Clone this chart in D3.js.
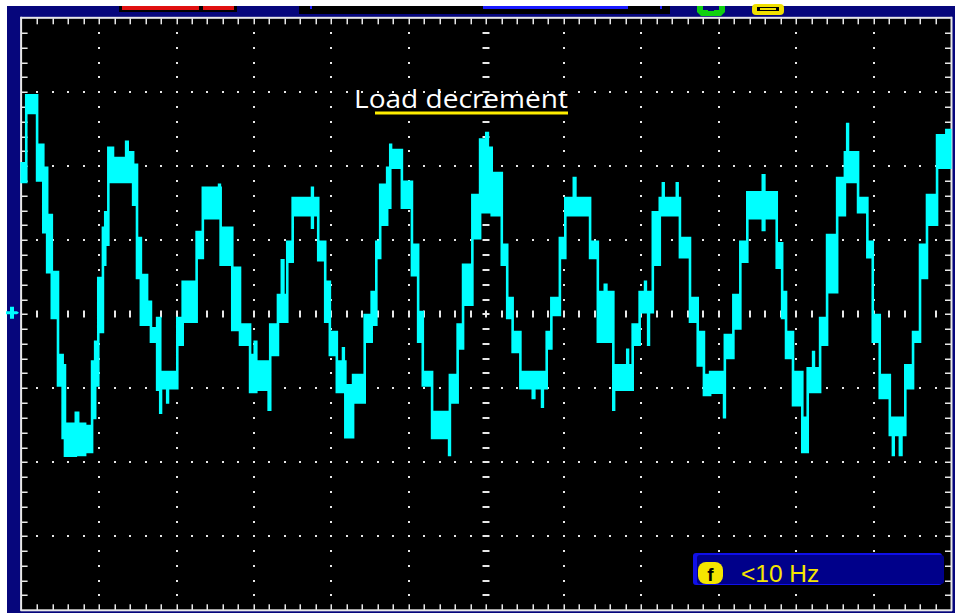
<!DOCTYPE html>
<html>
<head>
<meta charset="utf-8">
<script src="https://cdn.jsdelivr.net/npm/d3@7"></script>
<style>
html,body{margin:0;padding:0;background:#ffffff;}
svg{display:block;}
</style>
</head>
<body>
<svg id="chart" width="958" height="613"></svg>
<script>
// ---- data (time in divisions 0..12, amplitude in divisions -4..4) ----
const timeDivs = 12;
const voltDivs = 8;
const traceT  = [0.00,0.06,0.20,0.28,0.33,0.39,0.47,0.53,0.56,0.70,0.73,0.82,0.91,0.95,0.99,1.05,1.08,1.12,1.18,1.35,1.37,1.44,1.49,1.54,1.62,1.67,1.75,1.79,1.80,1.88,1.89,2.01,2.08,2.26,2.34,2.55,2.56,2.57,2.72,2.82,2.95,3.01,3.03,3.19,3.21,3.31,3.36,3.38,3.43,3.50,3.75,3.76,3.83,3.92,3.98,4.07,4.15,4.16,4.18,4.28,4.43,4.52,4.58,4.63,4.72,4.76,4.77,4.91,5.04,5.12,5.18,5.30,5.52,5.53,5.63,5.70,5.82,5.92,6.00,6.02,6.07,6.20,6.27,6.34,6.44,6.60,6.62,6.72,6.73,6.78,6.84,6.95,7.02,7.13,7.15,7.34,7.44,7.53,7.55,7.64,7.65,7.82,7.83,7.89,7.98,8.05,8.06,8.09,8.10,8.15,8.24,8.28,8.29,8.46,8.47,8.50,8.63,8.73,8.81,8.89,9.07,9.08,9.19,9.28,9.37,9.57,9.59,9.75,9.82,9.87,9.96,10.08,10.15,10.22,10.23,10.31,10.40,10.53,10.63,10.66,10.67,10.80,10.92,10.99,11.08,11.21,11.25,11.26,11.34,11.36,11.41,11.51,11.60,11.69,11.82,11.94,11.99];
const traceHi = [2.04,2.96,2.29,1.98,1.34,0.57,-0.55,-0.69,-1.48,-1.33,-1.48,-1.51,-0.64,-0.37,0.49,1.17,1.38,2.25,2.11,2.33,2.19,2.02,1.03,0.53,0.17,-0.19,-0.05,-0.78,-0.78,-0.78,-0.78,-0.05,0.44,1.11,1.71,1.75,1.71,1.17,0.63,-0.14,-0.55,-0.37,-0.64,-0.64,-0.14,0.26,0.73,0.26,0.98,1.57,1.71,1.57,0.98,0.44,-0.24,-0.64,-0.46,-0.64,-0.96,-0.82,-0.01,0.30,0.98,1.75,1.98,2.29,2.22,1.79,0.94,0.03,-0.78,-1.32,-1.32,-0.82,-0.14,0.67,1.61,2.36,2.45,2.25,1.91,0.94,0.22,-0.24,-0.78,-0.78,-0.78,-0.78,-0.78,-0.24,0.22,1.03,1.57,1.84,1.57,0.98,0.30,0.40,0.30,-0.69,-0.69,-0.48,-0.69,-0.14,0.30,0.44,0.30,0.30,0.30,1.38,1.57,1.77,1.57,1.77,1.57,1.03,0.22,-0.24,-0.82,-0.78,-0.78,-0.28,0.26,0.98,1.65,1.88,1.65,0.96,0.30,-0.24,-0.78,-1.40,-0.73,-0.51,-0.73,-0.05,1.07,1.84,2.19,2.57,2.19,1.57,0.98,-0.01,-0.82,-1.40,-1.40,-1.40,-1.40,-1.40,-0.69,-0.24,0.94,1.61,2.42,2.49,2.49];
const traceLo = [1.79,2.72,1.81,1.11,0.57,-0.05,-0.96,-1.67,-1.91,-1.86,-1.90,-1.86,-1.40,-0.96,-0.24,0.67,0.94,1.79,1.79,1.88,1.79,1.48,0.49,-0.14,-0.14,-0.37,-1.02,-1.33,-1.00,-1.19,-1.00,-0.41,-0.10,0.76,1.30,1.30,1.30,0.67,-0.21,-0.41,-1.05,-1.05,-1.02,-1.29,-0.55,-0.10,-0.10,-0.10,0.71,1.34,1.17,1.34,0.73,-0.10,-0.55,-1.05,-1.05,-1.05,-1.66,-1.19,-0.37,-0.14,0.76,1.21,1.44,1.98,1.98,1.44,0.53,-0.37,-0.96,-1.67,-1.90,-1.19,-0.46,0.13,1.03,1.38,1.38,1.38,1.34,0.67,-0.05,-0.51,-1.00,-1.13,-1.00,-1.25,-1.00,-0.46,-0.01,0.76,1.34,1.34,1.34,0.76,-0.37,-0.37,-0.37,-1.29,-1.02,-1.02,-1.02,-0.41,0.03,0.03,0.03,-0.41,0.03,0.67,1.34,1.34,1.34,1.34,1.34,0.77,-0.10,-0.69,-1.09,-1.06,-1.39,-0.59,-0.19,0.71,1.30,1.14,1.30,0.63,-0.05,-0.59,-1.23,-1.86,-1.05,-1.05,-1.05,-0.41,0.30,1.34,1.79,1.79,1.79,1.38,0.77,-0.37,-1.13,-1.63,-1.90,-1.63,-1.90,-1.63,-1.00,-0.37,0.49,1.21,1.98,1.98,1.98];
const titleText = "Load decrement";
const freqText = "<10 Hz";
const triggerLevel = 0.02;

// ---- layout ----
const W = 958, H = 613;
const plot = {left: 21.6, right: 951, top: 18.3, bottom: 610.3};
const svg = d3.select("#chart");

const x = d3.scaleLinear().domain([0, timeDivs]).range([plot.left, plot.right]);
const y = d3.scaleLinear().domain([-voltDivs/2, voltDivs/2]).range([plot.bottom, plot.top]);

const frameBlue = "#06067c";
const white = "#e8e8e8";

// background: white outer, blue frame, black screen
svg.append("rect").attr("x",0).attr("y",0).attr("width",W).attr("height",H).attr("fill","#ffffff");
svg.append("rect").attr("x",7).attr("y",6).attr("width",948).attr("height",H-6).attr("fill",frameBlue);
svg.append("rect").attr("x",plot.left).attr("y",plot.top).attr("width",plot.right-plot.left).attr("height",plot.bottom-plot.top).attr("fill","#000000");

// top status bar pieces
const bar = svg.append("g");
bar.append("rect").attr("x",119).attr("y",6).attr("width",118).attr("height",6).attr("fill","#000");
bar.append("rect").attr("x",122).attr("y",6).attr("width",77).attr("height",4).attr("fill","#e01010");
bar.append("rect").attr("x",203).attr("y",6).attr("width",31).attr("height",4).attr("fill","#e01010");
bar.append("rect").attr("x",299).attr("y",6).attr("width",371).attr("height",8).attr("fill","#000");
bar.append("rect").attr("x",310).attr("y",6).attr("width",2).attr("height",3).attr("fill","#2020ff");
bar.append("rect").attr("x",483).attr("y",6).attr("width",145).attr("height",3).attr("fill","#1a1aff");
bar.append("rect").attr("x",660).attr("y",6).attr("width",2).attr("height",3).attr("fill","#2020ff");
// green and yellow icons
bar.append("path").attr("d","M697,6 h6 v4 h16 v-4 h6 v6 l-4,4 h-20 l-4,-4 z").attr("fill","#10d010");
bar.append("rect").attr("x",708).attr("y",8).attr("width",6).attr("height",3).attr("fill",frameBlue);
bar.append("rect").attr("x",752).attr("y",4).attr("width",32).attr("height",11).attr("rx",4).attr("fill","#f0e000");
bar.append("rect").attr("x",757).attr("y",7).attr("width",22).attr("height",4).attr("fill","#000");
bar.append("rect").attr("x",760).attr("y",8).attr("width",16).attr("height",2).attr("fill","#f0e000");

// border ruler lines with minor ticks
const ruler = svg.append("g");
ruler.append("rect").attr("x",plot.left-1).attr("y",plot.top-1.5).attr("width",plot.right-plot.left+2).attr("height",2).attr("fill",white);
ruler.append("rect").attr("x",plot.left-1).attr("y",plot.bottom-1).attr("width",plot.right-plot.left+2).attr("height",2).attr("fill",white);
ruler.append("rect").attr("x",plot.left-1.5).attr("y",plot.top-1.5).attr("width",2).attr("height",plot.bottom-plot.top+2).attr("fill",white);
ruler.append("rect").attr("x",plot.right-0.5).attr("y",plot.top-1.5).attr("width",2).attr("height",plot.bottom-plot.top+2).attr("fill",white);

const xMinor = d3.range(1, timeDivs*5).map(i => i/5);
const yMinor = d3.range(1, voltDivs*5).map(i => -voltDivs/2 + i/5);

ruler.selectAll(".tt").data(xMinor).enter().append("rect")
  .attr("x", d => Math.round(x(d))-0.5).attr("y", plot.top).attr("width",1.5).attr("height",6).attr("fill",white);
ruler.selectAll(".tb").data(xMinor).enter().append("rect")
  .attr("x", d => Math.round(x(d))-0.5).attr("y", plot.bottom-6).attr("width",1.5).attr("height",6).attr("fill",white);
ruler.selectAll(".tl").data(yMinor).enter().append("rect")
  .attr("x", plot.left).attr("y", d => Math.round(y(d))-0.5).attr("width",6).attr("height",1.5).attr("fill",white);
ruler.selectAll(".tr").data(yMinor).enter().append("rect")
  .attr("x", plot.right-6).attr("y", d => Math.round(y(d))-0.5).attr("width",6).attr("height",1.5).attr("fill",white);

// dotted grid
const grid = svg.append("g");
const xMajors = d3.range(1, timeDivs).filter(d => d !== timeDivs/2);
const yMajors = d3.range(-voltDivs/2+1, voltDivs/2).filter(d => d !== 0);
xMajors.forEach(gx => {
  grid.selectAll(null).data(yMinor).enter().append("rect")
    .attr("x", Math.round(x(gx))-1).attr("y", d => Math.round(y(d))-1).attr("width",2).attr("height",2).attr("fill",white);
});
yMajors.forEach(gy => {
  grid.selectAll(null).data(xMinor).enter().append("rect")
    .attr("x", d => Math.round(x(d))-1).attr("y", Math.round(y(gy))-1).attr("width",2).attr("height",2).attr("fill",white);
});
// center cross with dashes
grid.selectAll(null).data(xMinor).enter().append("rect")
  .attr("x", d => Math.round(x(d))-1).attr("y", Math.round(y(0))-3.5).attr("width",2).attr("height",7).attr("fill",white);
grid.selectAll(null).data(yMinor).enter().append("rect")
  .attr("x", Math.round(x(timeDivs/2))-3.5).attr("y", d => Math.round(y(d))-1).attr("width",7).attr("height",2).attr("fill",white);

// title annotation
svg.append("text").attr("x",354).attr("y",108)
  .attr("font-family","'Open Sans','Noto Sans',sans-serif").attr("font-size",25.5)
  .attr("fill","#ffffff").attr("textLength",214).attr("lengthAdjust","spacingAndGlyphs")
  .text(titleText);
svg.append("rect").attr("x",375).attr("y",111.5).attr("width",193).attr("height",3).attr("fill","#ffee00");

// trace
const traceData = traceT.map((t,i) => ({t, hi: traceHi[i], lo: traceLo[i]}));
const area = d3.area()
  .x(d => x(d.t))
  .y0(d => y(d.lo))
  .y1(d => y(d.hi))
  .curve(d3.curveStepAfter);
svg.append("path").datum(traceData)
  .attr("d", area)
  .attr("fill","#00ffff")
  .attr("stroke","#00ffff")
  .attr("stroke-width",2.6)
  .attr("stroke-linejoin","miter");

// trigger level marker on the left
const ty = y(triggerLevel);
svg.append("path")
  .attr("d", `M6,${ty-1.5} h4 v-4.5 h4 v4.5 h3 l2,1.5 l-2,1.5 h-3 v4.5 h-4 v-4.5 h-4 z`)
  .attr("fill","#00ffff");

// frequency counter box
const fb = svg.append("g");
fb.append("rect").attr("x",693).attr("y",553).attr("width",249).attr("height",32).attr("rx",3).attr("fill","#1010e8");
fb.append("rect").attr("x",697).attr("y",555).attr("width",247).attr("height",29).attr("rx",3).attr("fill","#00008a");
fb.append("rect").attr("x",698).attr("y",562).attr("width",25).attr("height",22).attr("rx",8).attr("fill","#f5e600");
fb.append("text").attr("x",710.5).attr("y",580.5).attr("text-anchor","middle")
  .attr("font-family","'Liberation Sans',Arial,sans-serif").attr("font-weight","bold").attr("font-size",19)
  .attr("fill","#000").text("f");
fb.append("text").attr("x",741).attr("y",582)
  .attr("font-family","'Liberation Sans',Arial,sans-serif").attr("font-size",24.5)
  .attr("fill","#f5e600").text(freqText);
</script>
</body>
</html>
